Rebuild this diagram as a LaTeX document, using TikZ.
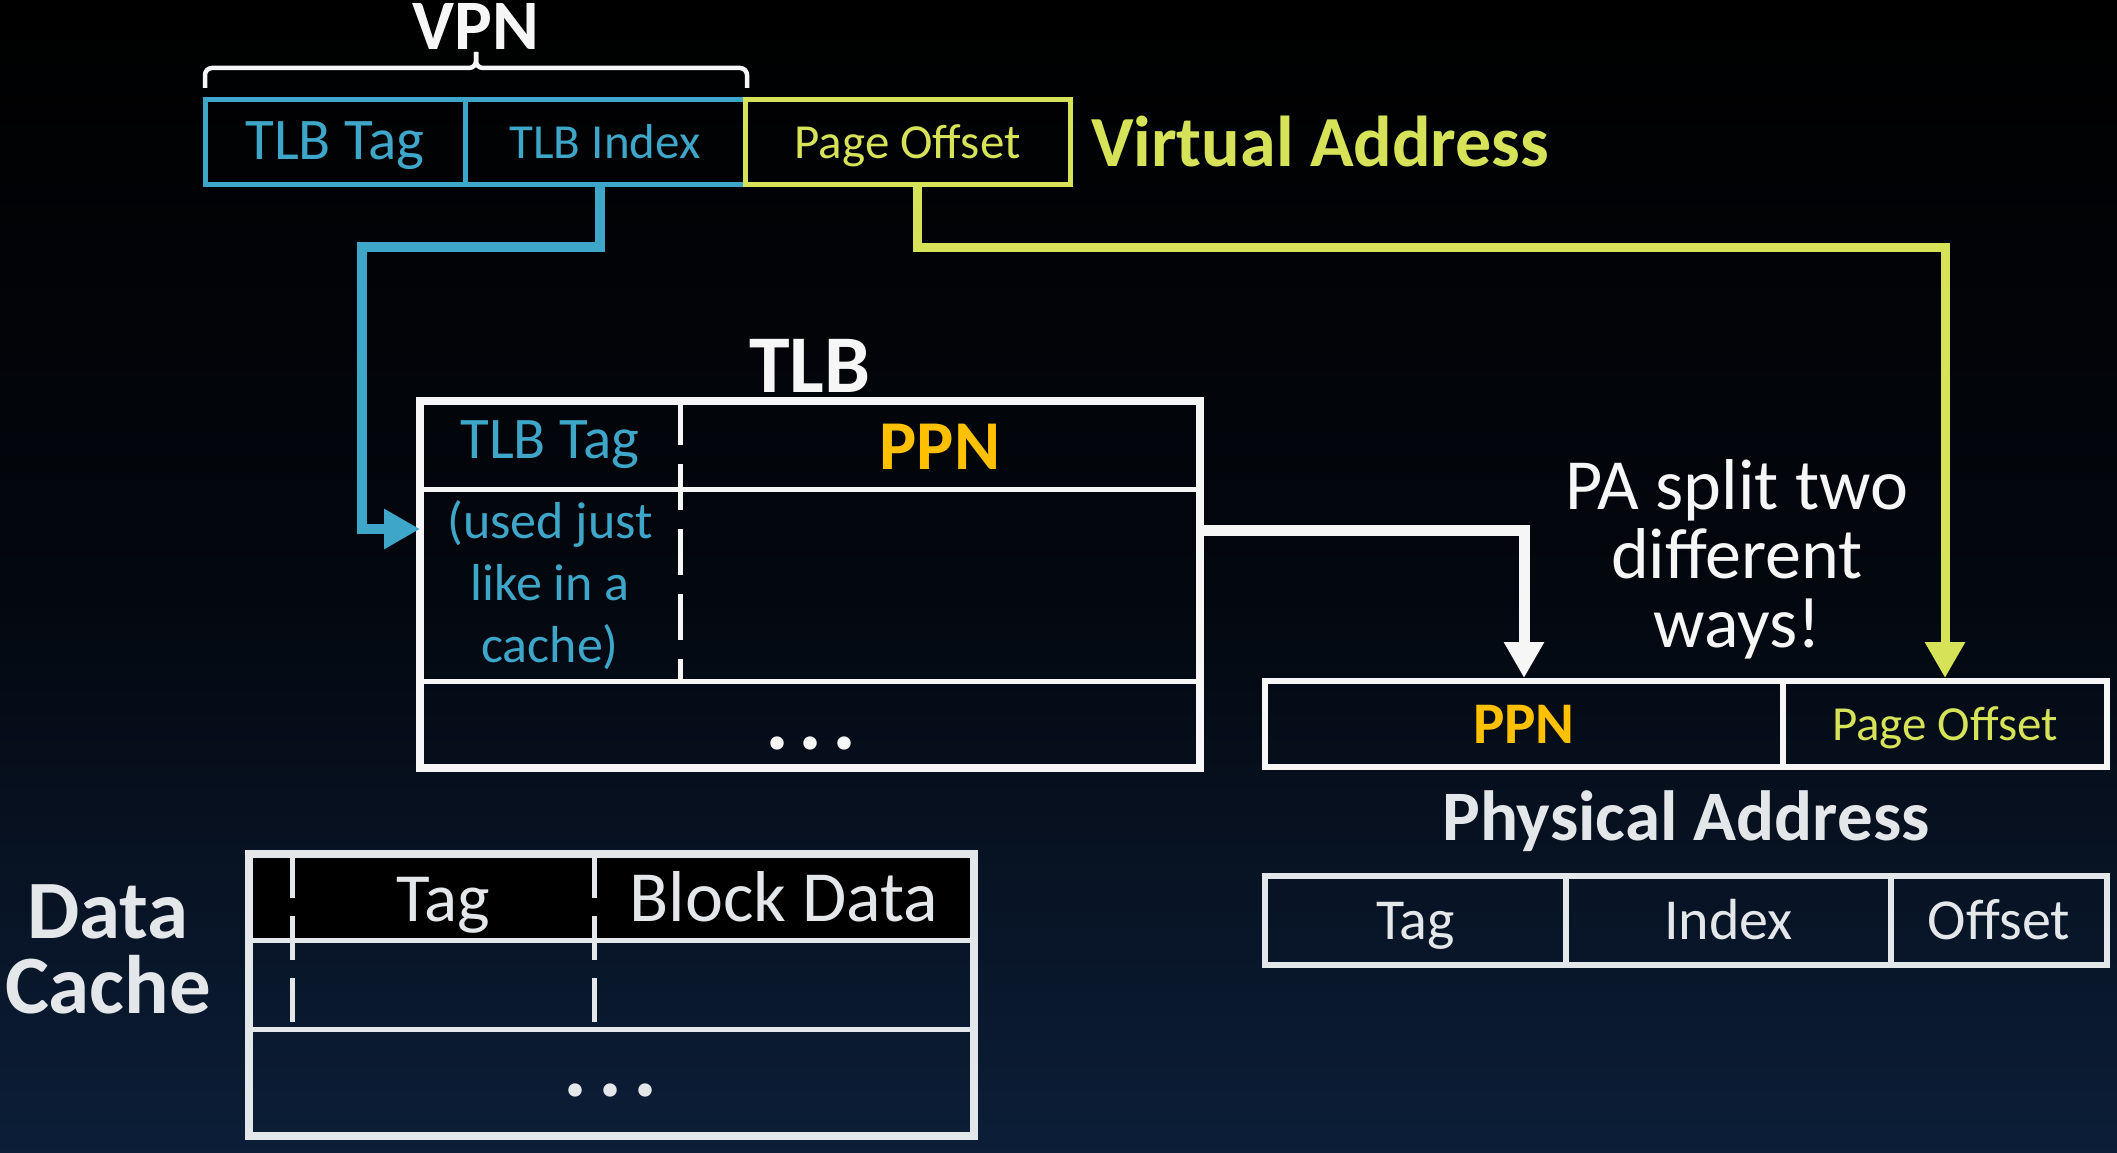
\documentclass[tikz,border=0pt]{standalone}
\usepackage{fontspec}
\setmainfont{Carlito}
\usetikzlibrary{arrows.meta}
\definecolor{tblue}{RGB}{62,166,200}
\definecolor{tyel}{RGB}{214,226,88}
\definecolor{torange}{RGB}{255,192,0}
\definecolor{twhite}{RGB}{246,246,246}
\definecolor{tgray}{RGB}{228,231,234}
\newcommand\myfs[1]{\fontsize{#1pt}{#1pt}\selectfont}
\begin{document}
\begin{tikzpicture}[x=1pt,y=-1pt,
  cell/.style={draw=#1, rectangle, inner sep=0pt, outer sep=0pt, line width=5pt},
  lab/.style={anchor=base, inner sep=0pt, outer sep=0pt, text=#1},
  wire/.style={draw=#1, line width=10pt, -{Triangle[length=36pt,width=38pt]}},
  dashdiv/.style={line width=5pt, dash pattern=on 46pt off 19pt},
  bracepart/.style={draw=twhite, line width=4.5pt, rounded corners=7pt},
]
\shade[top color=black, bottom color={rgb,255:red,12;green,30;blue,56}, middle color={rgb,255:red,3;green,7;blue,14}] (0,0) rectangle (2117,1153);
\useasboundingbox (0,0) rectangle (2117,1153);

% ---------- Virtual address ----------
\node[lab=twhite, font=\myfs{71}\bfseries] (vpn) at (476,50) {VPN};
\draw[bracepart] (205,88) -- (205,68) -- (476,68) -- (476,52);
\draw[bracepart] (747,88) -- (747,68) -- (476,68) -- (476,52);

\node[cell=tblue, minimum width=260pt, minimum height=84pt] (vtag) at (335,142) {};
\node[cell=tblue, minimum width=280pt, minimum height=84pt] (vidx) at (605,142) {};
\node[cell=tyel, minimum width=325pt, minimum height=84pt] (voff) at (907.5,142) {};
\node[lab=tblue, font=\myfs{59}] (tvtag) at (335,160) {TLB Tag};
\node[lab=tblue, font=\myfs{49}] (tvidx) at (605,158) {TLB Index};
\node[lab=tyel, font=\myfs{49}] (tvoff) at (907.5,158) {Page Offset};
\node[lab=tyel, font=\myfs{72}\bfseries, anchor=base west] (tva) at (1091,167) {Virtual Address};

% ---------- TLB ----------
\node[lab=twhite, font=\myfs{82}\bfseries] (tlbt) at (810,392) {TLB};
\node[cell=twhite, line width=8pt, minimum width=780pt, minimum height=367pt] (tlb) at (810,584.5) {};
\draw[twhite, line width=5pt] (420,489) -- (1200,489) (420,681) -- (1200,681);
\draw[twhite, dashdiv] (680,399) -- (680,681);
\node[lab=tblue, font=\myfs{59}] (ttag) at (550,458) {TLB Tag};
\node[lab=torange, font=\myfs{70}\bfseries] (tppn) at (940,469) {PPN};
\node[lab=tblue, font=\myfs{52}] (tu1) at (550,538) {(used just};
\node[lab=tblue, font=\myfs{52}] (tu2) at (550,600) {like in a};
\node[lab=tblue, font=\myfs{52}] (tu3) at (550,662) {cache)};
\node[lab=twhite, font=\myfs{90}\bfseries] (tdots) at (811,749) {.\hspace{9pt}.\hspace{9pt}.};

% ---------- Physical address ----------
\node[cell=twhite, line width=6pt, minimum width=518pt, minimum height=86pt] (pppn) at (1524,724) {};
\node[cell=twhite, line width=6pt, minimum width=324pt, minimum height=86pt] (ppoff) at (1945,724) {};
\node[lab=torange, font=\myfs{59}\bfseries] (tpppn) at (1524,743) {PPN};
\node[lab=tyel, font=\myfs{49}] (tppoff) at (1945,740) {Page Offset};
\node[lab=tgray, font=\myfs{71}\bfseries] (tpa) at (1686,840) {Physical Address};

\node[lab=twhite, font=\myfs{72}] (ps1) at (1737,509) {PA split two};
\node[lab=twhite, font=\myfs{72}] (ps2) at (1737,578) {different};
\node[lab=twhite, font=\myfs{72}] (ps3) at (1737,647) {ways!};

\node[cell=tgray, line width=6pt, minimum width=301pt, minimum height=89pt] (ctag) at (1415.5,920.5) {};
\node[cell=tgray, line width=6pt, minimum width=325pt, minimum height=89pt] (cidx) at (1728.5,920.5) {};
\node[cell=tgray, line width=6pt, minimum width=216pt, minimum height=89pt] (coff) at (1999,920.5) {};
\node[lab=tgray, font=\myfs{58}] (tctag) at (1415.5,939) {Tag};
\node[lab=tgray, font=\myfs{58}] (tcidx) at (1728.5,939) {Index};
\node[lab=tgray, font=\myfs{58}] (tcoff) at (1999,939) {Offset};

% ---------- Data cache ----------
\node[lab=tgray, font=\myfs{83}\bfseries] (dc1) at (108,938) {Data};
\node[lab=tgray, font=\myfs{83}\bfseries] (dc2) at (108,1013) {Cache};
\fill[black] (249,854) rectangle (974,940);
\node[cell=tgray, line width=8pt, minimum width=725pt, minimum height=282pt] (dcache) at (611.5,995) {};
\draw[tgray, line width=5pt] (249,940) -- (974,940) (249,1029) -- (974,1029);
\draw[tgray, line width=5pt, dash pattern=on 44pt off 18pt] (292,854) -- (292,1029) (594,854) -- (594,1029);
\node[lab=tgray, font=\myfs{69}] (dtag) at (443,921) {Tag};
\node[lab=tgray, font=\myfs{72}] (dblk) at (784,921) {Block Data};
\node[lab=tgray, font=\myfs{90}\bfseries] (ddots) at (611,1096) {.\hspace{11pt}.\hspace{11pt}.};

% ---------- Connectors ----------
\coordinate (bendA) at (362,247);
\coordinate (bendB) at (1945,247);
\draw[wire=tblue] ([xshift=-5pt]vidx.south) |- (bendA) |- ([yshift=55.5pt]tlb.west);
\draw[wire=tyel, line width=9pt, shorten >=3pt] ([xshift=9.5pt]voff.south) |- (bendB) -- (ppoff.north);
\draw[wire=twhite, line width=11pt, shorten >=3pt] ([yshift=54.5pt]tlb.east) -| (pppn.north);
\end{tikzpicture}
\end{document}
